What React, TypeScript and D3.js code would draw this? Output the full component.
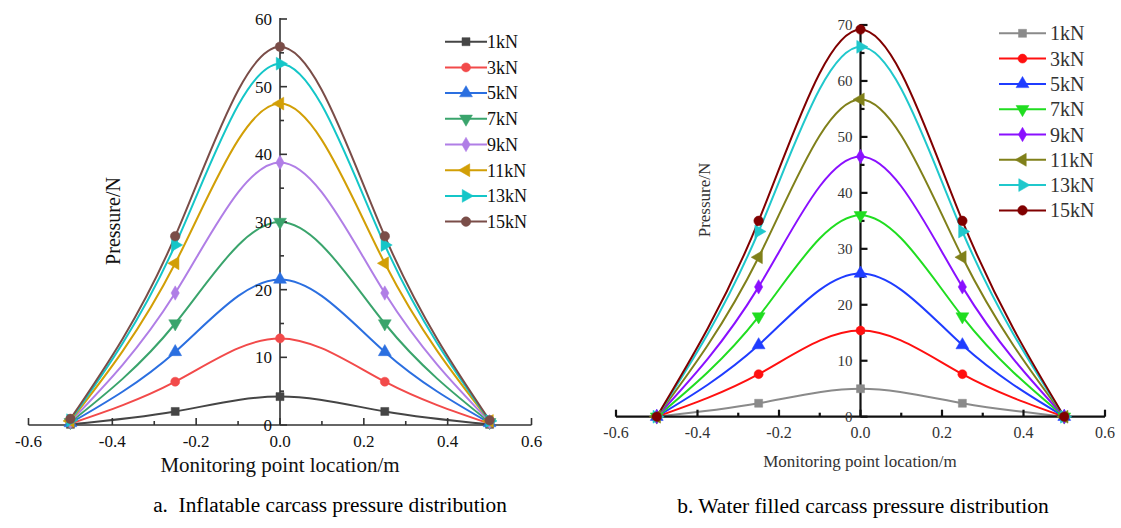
import React from "react";
import * as d3 from "d3";

// ---------- DATA ----------
const positions = [-0.5, -0.25, 0, 0.25, 0.5];
const loadLabels = ["1kN", "3kN", "5kN", "7kN", "9kN", "11kN", "13kN", "15kN"];
const xTicks = [-0.6, -0.4, -0.2, 0.0, 0.2, 0.4, 0.6];

// a. Inflatable carcass
const inflatable1kN = [0.1, 2.0, 4.2, 2.0, 0.1];
const inflatable3kN = [0.2, 6.4, 12.8, 6.4, 0.2];
const inflatable5kN = [0.3, 10.8, 21.5, 10.8, 0.3];
const inflatable7kN = [0.4, 15.0, 30.0, 15.0, 0.4];
const inflatable9kN = [0.5, 19.5, 38.8, 19.5, 0.5];
const inflatable11kN = [0.6, 23.9, 47.5, 23.9, 0.6];
const inflatable13kN = [0.7, 26.6, 53.4, 26.6, 0.6];
const inflatable15kN = [0.9, 27.9, 55.9, 27.9, 0.7];
const inflatableYTicks = [0, 10, 20, 30, 40, 50, 60];

// b. Water filled carcass
const water1kN = [0, 2.4, 5.0, 2.4, 0];
const water3kN = [0, 7.6, 15.4, 7.6, 0];
const water5kN = [0, 12.8, 25.6, 12.8, 0];
const water7kN = [0, 17.9, 36.0, 17.9, 0];
const water9kN = [0, 23.2, 46.5, 23.2, 0];
const water11kN = [0, 28.5, 56.7, 28.5, 0];
const water13kN = [0, 33.1, 66.1, 33.1, 0];
const water15kN = [0, 35.0, 69.2, 35.0, 0];
const waterYTicks = [0, 10, 20, 30, 40, 50, 60, 70];

const inflatableSeries = [inflatable1kN, inflatable3kN, inflatable5kN, inflatable7kN, inflatable9kN, inflatable11kN, inflatable13kN, inflatable15kN];
const waterSeries = [water1kN, water3kN, water5kN, water7kN, water9kN, water11kN, water13kN, water15kN];

const inflatableColors = ["#454545", "#f24a4a", "#2b6fe0", "#3aa46c", "#b07ee6", "#d29f06", "#14c6c8", "#7a4d48"];
const waterColors = ["#8a8a8a", "#ff1010", "#1f3cff", "#20dd20", "#8a10ff", "#80801a", "#20c8cc", "#800000"];

const FONT = "'Liberation Serif', 'Times New Roman', serif";

// marker definitions: [symbol type, rotation, size]
const markerDefs: [any, number, number][] = [
  [d3.symbolSquare, 0, 64],
  [d3.symbolCircle, 0, 64],
  [d3.symbolTriangle, 0, 72],
  [d3.symbolTriangle, 180, 72],
  [d3.symbolDiamond, 0, 60],
  [d3.symbolTriangle, -90, 72],
  [d3.symbolTriangle, 90, 72],
  [d3.symbolCircle, 0, 72],
];

function Marker({ x, y, i, color }: { x: number; y: number; i: number; color: string }) {
  const [type, rot, size] = markerDefs[i];
  const p = d3.symbol().type(type).size(size)() as string;
  return <path d={p} transform={`translate(${x},${y}) rotate(${rot})`} fill={color} stroke={color} strokeWidth={0.5} />;
}

type PanelCfg = {
  series: number[][];
  colors: string[];
  yTicks: number[];
  yMax: number;
  xRange: [number, number];
  yRange: [number, number];
  axisColor: string;
  axisWidth: number;
  textColor: string;
  xTickFont: number;
  yTickFont: number;
  xLabelOffset: number;
  xTitle: { x: number; y: number; size: number };
  yTitle: { x: number; y: number; size: number };
  legend: { x0: number; x1: number; y0: number; dy: number; size: number; textX: number };
  caption: { text: string; x: number; y: number; size: number };
  lineWidth: number;
};

function Panel({ cfg }: { cfg: PanelCfg }) {
  const x = d3.scaleLinear().domain([-0.6, 0.6]).range(cfg.xRange);
  const y = d3.scaleLinear().domain([0, cfg.yMax]).range(cfg.yRange);
  const line = d3
    .line<number>()
    .x((_, j) => x(positions[j]))
    .y((d) => y(d))
    .curve(d3.curveNatural);
  const x0 = x(0);
  const yBase = y(0);
  const minorX = d3.range(-5, 6, 2).map((k) => k / 10);
  const minorY = d3.range(5, cfg.yMax, 10);
  return (
    <g>
      {cfg.series.map((s, i) => (
        <path key={"l" + i} d={line(s) as string} fill="none" stroke={cfg.colors[i]} strokeWidth={cfg.lineWidth} />
      ))}
      <line x1={cfg.xRange[0]} x2={cfg.xRange[1]} y1={yBase} y2={yBase} stroke={cfg.axisColor} strokeWidth={cfg.axisWidth} />
      <line x1={x0} x2={x0} y1={yBase} y2={cfg.yRange[1] - 1} stroke={cfg.axisColor} strokeWidth={cfg.axisWidth} />
      {xTicks.map((t) => (
        <g key={"xt" + t}>
          <line x1={x(t)} x2={x(t)} y1={yBase} y2={yBase - 7} stroke={cfg.axisColor} strokeWidth={cfg.axisWidth} />
          <text x={x(t)} y={yBase + cfg.xLabelOffset} textAnchor="middle" fontSize={cfg.xTickFont} fontFamily={FONT} fill={cfg.textColor}>
            {t.toFixed(1)}
          </text>
        </g>
      ))}
      {minorX.map((t) => (
        <line key={"xm" + t} x1={x(t)} x2={x(t)} y1={yBase} y2={yBase - 4} stroke={cfg.axisColor} strokeWidth={cfg.axisWidth} />
      ))}
      {cfg.yTicks.map((t) => (
        <g key={"yt" + t}>
          <line x1={x0} x2={x0 + 7} y1={y(t)} y2={y(t)} stroke={cfg.axisColor} strokeWidth={cfg.axisWidth} />
          <text x={x0 - 8} y={y(t)} dy="0.35em" textAnchor="end" fontSize={cfg.yTickFont} fontFamily={FONT} fill={cfg.textColor}>
            {t}
          </text>
        </g>
      ))}
      {minorY.map((t) => (
        <line key={"ym" + t} x1={x0} x2={x0 + 4} y1={y(t)} y2={y(t)} stroke={cfg.axisColor} strokeWidth={cfg.axisWidth} />
      ))}
      {cfg.series.map((s, i) =>
        s.map((v, j) => <Marker key={`m${i}-${j}`} x={x(positions[j])} y={y(v)} i={i} color={cfg.colors[i]} />)
      )}
      <text x={cfg.xTitle.x} y={cfg.xTitle.y} textAnchor="middle" fontSize={cfg.xTitle.size} fontFamily={FONT} fill={cfg.textColor}>
        Monitoring point location/m
      </text>
      <text
        transform={`translate(${cfg.yTitle.x},${cfg.yTitle.y}) rotate(-90)`}
        textAnchor="middle"
        fontSize={cfg.yTitle.size}
        fontFamily={FONT}
        fill={cfg.textColor}
      >
        Pressure/N
      </text>
      {loadLabels.map((lab, i) => {
        const ly = cfg.legend.y0 + i * cfg.legend.dy;
        return (
          <g key={"lg" + i}>
            <line x1={cfg.legend.x0} x2={cfg.legend.x1} y1={ly} y2={ly} stroke={cfg.colors[i]} strokeWidth={cfg.lineWidth} />
            <Marker x={(cfg.legend.x0 + cfg.legend.x1) / 2} y={ly} i={i} color={cfg.colors[i]} />
            <text x={cfg.legend.textX} y={ly} dy="0.35em" fontSize={cfg.legend.size} fontFamily={FONT} fill={cfg.textColor}>
              {lab}
            </text>
          </g>
        );
      })}
      <text x={cfg.caption.x} y={cfg.caption.y} textAnchor="middle" fontSize={cfg.caption.size} fontFamily={FONT} fill="#000" style={{ whiteSpace: "pre" }}>
        {cfg.caption.text}
      </text>
    </g>
  );
}

const leftCfg: PanelCfg = {
  series: inflatableSeries,
  colors: inflatableColors,
  yTicks: inflatableYTicks,
  yMax: 60,
  xRange: [28.5, 531.5],
  yRange: [425, 19],
  axisColor: "#333",
  axisWidth: 1.6,
  textColor: "#111",
  xTickFont: 17,
  yTickFont: 17,
  xLabelOffset: 22,
  xTitle: { x: 280, y: 472, size: 21 },
  yTitle: { x: 120, y: 221, size: 20 },
  legend: { x0: 445, x1: 487, y0: 41.7, dy: 25.7, size: 18, textX: 487 },
  caption: { text: "a.  Inflatable carcass pressure distribution", x: 330, y: 512, size: 21.3 },
  lineWidth: 2,
};

const rightCfg: PanelCfg = {
  series: waterSeries,
  colors: waterColors,
  yTicks: waterYTicks,
  yMax: 70,
  xRange: [616, 1105],
  yRange: [416.7, 25],
  axisColor: "#111",
  axisWidth: 2.2,
  textColor: "#333",
  xTickFont: 16,
  yTickFont: 15,
  xLabelOffset: 21,
  xTitle: { x: 860, y: 467, size: 17 },
  yTitle: { x: 710, y: 200, size: 17 },
  legend: { x0: 999, x1: 1046, y0: 33.3, dy: 25.3, size: 20, textX: 1050 },
  caption: { text: "b. Water filled carcass pressure distribution", x: 863, y: 513, size: 21.5 },
  lineWidth: 2,
};

export default function App() {
  return (
    <svg width={1121} height={528} style={{ position: "fixed", left: 0, top: 0, background: "#fff" }}>
      <rect width={1121} height={528} fill="#fff" />
      <Panel cfg={leftCfg} />
      <Panel cfg={rightCfg} />
    </svg>
  );
}
